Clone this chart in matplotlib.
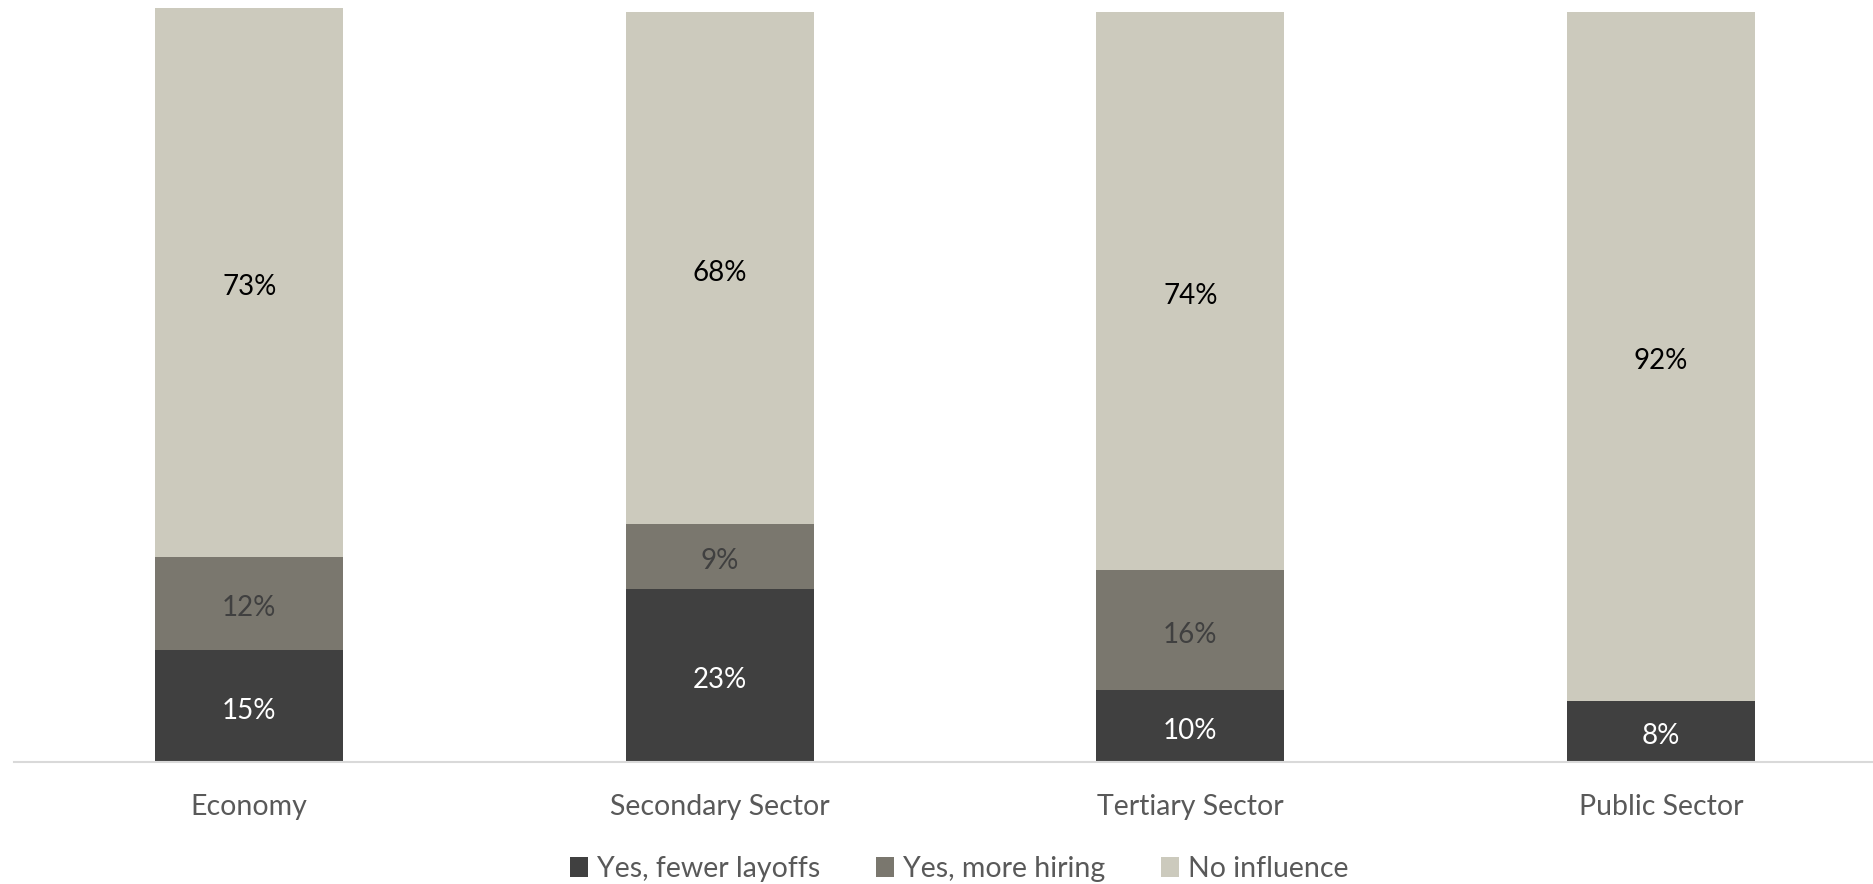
import numpy as np
import matplotlib.pyplot as plt
from matplotlib.patches import Patch

# Influence on employment decisions, share of respondents (%)
categories = ["Economy", "Secondary Sector", "Tertiary Sector", "Public Sector"]
fewer_layoffs = [15.0, 23.1, 9.6, 8.2]
more_hiring = [12.4, 8.6, 16.0, 0.0]
no_influence = [73.2, 68.3, 74.4, 91.8]

series_names = ["Yes, fewer layoffs", "Yes, more hiring", "No influence"]
series_colors = ["#404040", "#7a776e", "#cccabd"]
label_colors = ["#ffffff", "#404040", "#000000"]

plt.rcParams['font.family'] = ['Lato', 'DejaVu Sans']

fig = plt.figure(figsize=(18.74, 8.84), dpi=100)
ax = fig.add_axes([14 / 1874, 122 / 884, 1 - 14 / 1874, 1 - 122 / 884])

x = np.arange(len(categories))
bottom = np.zeros(len(categories))
for values, color, txt_color in zip([fewer_layoffs, more_hiring, no_influence],
                                     series_colors, label_colors):
    vals = np.array(values)
    ax.bar(x, vals, width=0.4, bottom=bottom, color=color, edgecolor="none")
    for xi, b, v in zip(x, bottom, vals):
        if v > 0:
            ax.annotate(f"{v:.0f}%", (xi, b + v / 2), xytext=(0, -3.5),
                        textcoords="offset points", ha="center", va="center",
                        fontsize=20, color=txt_color)
    bottom += vals

ax.set_xlim(-0.5, 3.453)
ax.set_ylim(0, 101.6)
ax.set_yticks([])
ax.set_xticks(x)
ax.set_xticklabels(categories, fontsize=20.5, color="#595959")
ax.tick_params(axis="x", length=0, pad=23)
for side in ["top", "right", "left"]:
    ax.spines[side].set_visible(False)
ax.spines["bottom"].set_color("#d9d9d9")
ax.spines["bottom"].set_linewidth(1.5)

handles = [Patch(facecolor=c, edgecolor="none") for c in series_colors]
fig.legend(handles, series_names, loc="center", bbox_to_anchor=(959 / 1874, 1 - 869 / 884),
           ncol=3, frameon=False, fontsize=20.5, labelcolor="#595959",
           handlelength=0.65, handleheight=0.65, handletextpad=0.3, columnspacing=1.95)

fig.savefig("out.png", dpi=100)
